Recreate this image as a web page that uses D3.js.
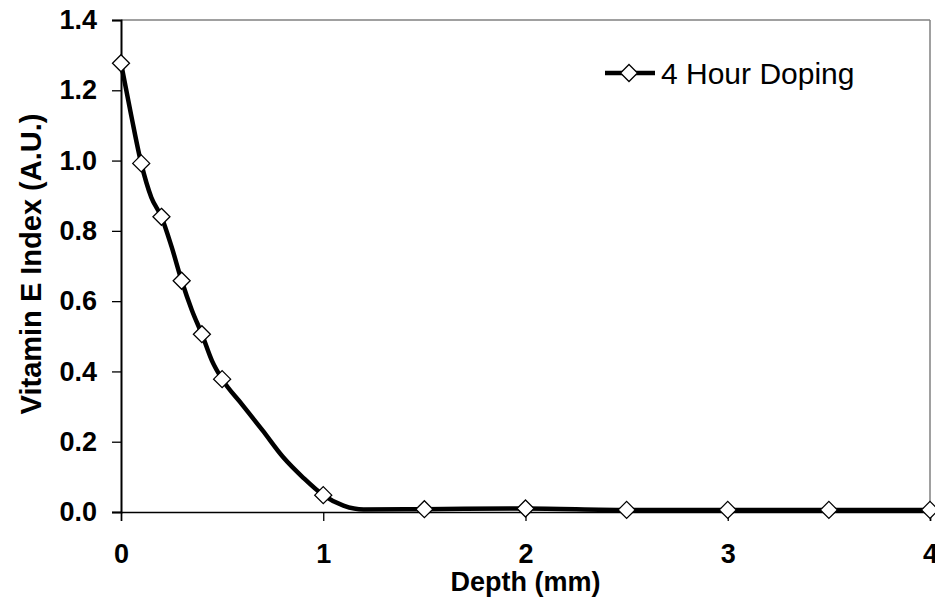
<!DOCTYPE html>
<html>
<head>
<meta charset="utf-8">
<script src="https://cdn.jsdelivr.net/npm/d3@7"></script>
<style>
  body { margin: 0; background: #fff; }
  text { font-family: "Liberation Sans", Arial, sans-serif; }
</style>
</head>
<body>
<div id="container"></div>
<script>
// curve of the 4 hour doping profile
let lineDepth = [0, 0.05, 0.1, 0.15, 0.2, 0.25, 0.3, 0.35, 0.4, 0.45, 0.5, 0.6, 0.7, 0.8, 0.9, 1.0, 1.1, 1.2, 1.5, 2, 2.5, 3, 3.5, 4];
let lineValue = [1.277, 1.13, 0.992, 0.895, 0.840, 0.755, 0.658, 0.575, 0.506, 0.43, 0.378, 0.305, 0.232, 0.157, 0.098, 0.048, 0.018, 0.007, 0.008, 0.010, 0.006, 0.006, 0.006, 0.006];

// measured points (diamonds)
let markerDepth = [0, 0.1, 0.2, 0.3, 0.4, 0.5, 1, 1.5, 2, 2.5, 3, 3.5, 4];
let markerValue = [1.277, 0.992, 0.840, 0.658, 0.506, 0.378, 0.048, 0.008, 0.010, 0.006, 0.006, 0.006, 0.006];

let xTicks = [0, 1, 2, 3, 4];
let yTicks = [0, 0.2, 0.4, 0.6, 0.8, 1.0, 1.2, 1.4];
let seriesName = "4 Hour Doping";

let w = 935;
let h = 598;
let plotLeft = 121, plotRight = 930, plotTop = 20, plotBottom = 512;

let viz = d3.select("#container")
  .append("svg")
    .attr("width", w)
    .attr("height", h)
    .style("background-color", "white");

let xScale = d3.scaleLinear().domain([0, 4]).range([plotLeft, plotRight]);
let yScale = d3.scaleLinear().domain([0, 1.4]).range([plotBottom, plotTop]);

// plot frame, top and right in grey
viz.append("line")
  .attr("x1", plotLeft).attr("x2", plotRight).attr("y1", plotTop).attr("y2", plotTop)
  .style("stroke", "#808080").style("stroke-width", 1.5);
viz.append("line")
  .attr("x1", plotRight).attr("x2", plotRight).attr("y1", plotTop).attr("y2", plotBottom)
  .style("stroke", "#808080").style("stroke-width", 1.5);

// axes
let xAxis = d3.axisBottom(xScale).tickValues(xTicks).tickSize(9).tickPadding(23).tickFormat(d3.format("d"));
let yAxis = d3.axisLeft(yScale).tickValues(yTicks).tickSize(9).tickPadding(15).tickFormat(d3.format(".1f"));

let gx = viz.append("g").attr("transform", "translate(0," + plotBottom + ")").call(xAxis);
let gy = viz.append("g").attr("transform", "translate(" + plotLeft + ",0)").call(yAxis);

[gx, gy].forEach(function(g) {
  g.select(".domain").style("stroke", "black").style("stroke-width", 2);
  g.selectAll(".tick line").style("stroke", "black").style("stroke-width", 1.3);
  g.selectAll(".tick text")
    .style("font-family", "'Liberation Sans', Arial, sans-serif")
    .style("font-size", "27px")
    .style("font-weight", "bold")
    .style("fill", "black");
});
gx.select(".domain").style("stroke-width", 1.5);

// axis titles
viz.append("text")
  .attr("x", (plotLeft + plotRight) / 2)
  .attr("y", 591)
  .attr("text-anchor", "middle")
  .style("font-size", "27px")
  .style("font-weight", "bold")
  .text("Depth (mm)");

viz.append("text")
  .attr("transform", "translate(41," + ((plotTop + plotBottom) / 2 - 2) + ") rotate(-90)")
  .attr("text-anchor", "middle")
  .style("font-size", "29px")
  .style("font-weight", "bold")
  .text("Vitamin E Index (A.U.)");

// the curve
let lineData = lineDepth.map(function(d, i) { return { x: d, y: lineValue[i] }; });
let lineGen = d3.line()
  .x(function(d) { return xScale(d.x); })
  .y(function(d) { return yScale(d.y); })
  .curve(d3.curveMonotoneX);

viz.append("path")
  .datum(lineData)
  .attr("d", lineGen)
  .style("fill", "none")
  .style("stroke", "black")
  .style("stroke-width", 4.5)
  .style("stroke-linejoin", "round");

// diamonds
let r = 8.5;
function diamond(cx, cy) {
  return "M" + cx + "," + (cy - r) + "L" + (cx + r) + "," + cy + "L" + cx + "," + (cy + r) + "L" + (cx - r) + "," + cy + "Z";
}
let markerData = markerDepth.map(function(d, i) { return { x: d, y: markerValue[i] }; });
viz.selectAll(".marker").data(markerData).enter()
  .append("path")
    .attr("class", "marker")
    .attr("d", function(d) { return diamond(xScale(d.x), yScale(d.y)); })
    .style("fill", "white")
    .style("stroke", "black")
    .style("stroke-width", 1.3);

// legend
let legend = viz.append("g").attr("transform", "translate(605,73)");
legend.append("line")
  .attr("x1", 0).attr("x2", 50).attr("y1", 0).attr("y2", 0)
  .style("stroke", "black").style("stroke-width", 4.5);
legend.append("path")
  .attr("d", diamond(24, 0))
  .style("fill", "white").style("stroke", "black").style("stroke-width", 1.3);
legend.append("text")
  .attr("x", 56)
  .attr("y", 11)
  .style("font-size", "30px")
  .text(seriesName);
</script>
</body>
</html>
